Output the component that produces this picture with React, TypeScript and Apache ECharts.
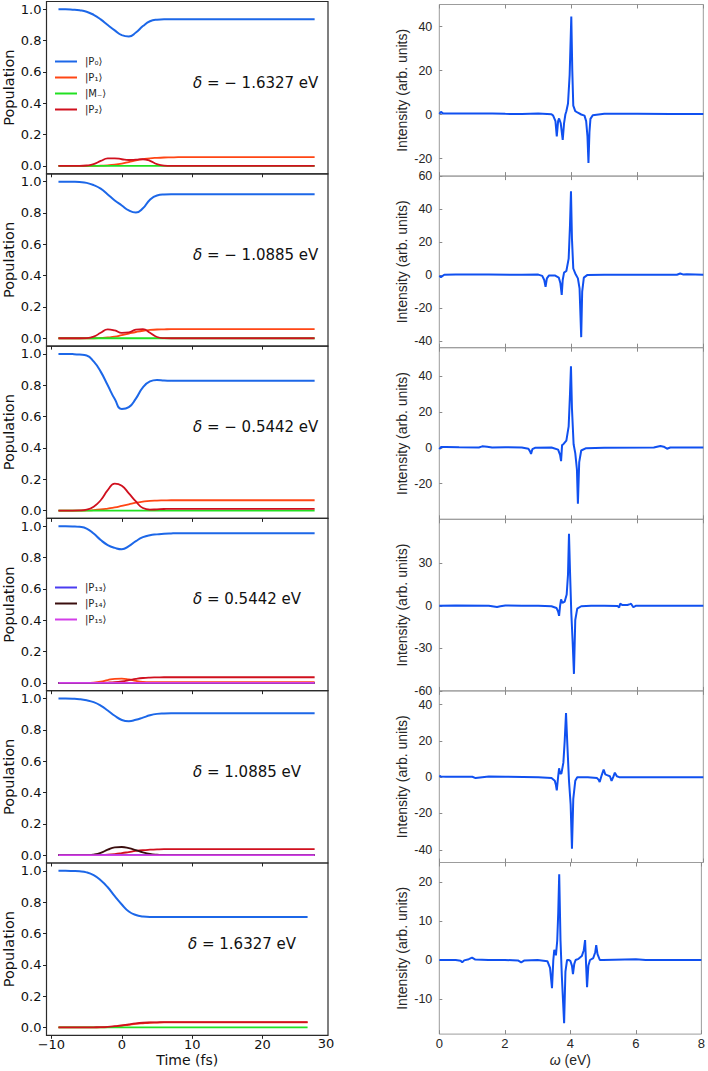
import React, { useEffect, useRef } from "react";
import * as echarts from "echarts";

// ---------- DATA ----------
const TIME = [-9, -8, -7, -6, -5, -4, -3, -2, -1, 0, 1, 2, 3, 4, 5, 6, 7, 8, 10, 13, 17, 22, 27.4];
const TIME_END = [27.4, 27.4, 27.4, 27.4, 27.4, 26.4];
const DELTAS = ["\u2212 1.6327", "\u2212 1.0885", "\u2212 0.5442", "0.5442", "1.0885", "1.6327"];
const ZERO = TIME.map(() => 0);

// panel 1  δ = −1.6327
const P0_1 = [1, 1, 0.998, 0.994, 0.985, 0.965, 0.936, 0.9, 0.866, 0.835, 0.826, 0.852, 0.893, 0.924, 0.934, 0.936, 0.936, 0.936, 0.936, 0.936, 0.936, 0.936, 0.936];
const P1_1 = [0, 0, 0, 0, 0, 0, 0.002, 0.004, 0.008, 0.015, 0.025, 0.035, 0.043, 0.049, 0.052, 0.054, 0.055, 0.056, 0.057, 0.057, 0.057, 0.057, 0.057];
const P2_1 = [0, 0, 0, 0, 0.003, 0.012, 0.032, 0.048, 0.049, 0.043, 0.038, 0.04, 0.043, 0.033, 0.012, 0.002, 0, 0, 0, 0, 0, 0, 0];
// panel 2  δ = −1.0885
const P0_2 = [1, 1, 0.999, 0.997, 0.992, 0.978, 0.955, 0.918, 0.88, 0.848, 0.816, 0.803, 0.83, 0.885, 0.912, 0.918, 0.919, 0.919, 0.919, 0.919, 0.919, 0.919, 0.919];
const P1_2 = [0, 0, 0, 0, 0, 0, 0.002, 0.005, 0.01, 0.02, 0.03, 0.04, 0.048, 0.053, 0.056, 0.057, 0.058, 0.058, 0.058, 0.058, 0.058, 0.058, 0.058];
const P2_2 = [0, 0, 0, 0, 0.001, 0.01, 0.035, 0.057, 0.05, 0.035, 0.037, 0.055, 0.058, 0.035, 0.008, 0.001, 0, 0, 0, 0, 0, 0, 0];
// panel 3  δ = −0.5442
const P0_3 = [1, 1, 0.999, 0.996, 0.99, 0.952, 0.887, 0.8, 0.712, 0.648, 0.66, 0.715, 0.787, 0.825, 0.834, 0.831, 0.829, 0.828, 0.828, 0.828, 0.828, 0.828, 0.828];
const P1_3 = [0, 0, 0, 0, 0.001, 0.003, 0.007, 0.013, 0.02, 0.03, 0.04, 0.05, 0.057, 0.062, 0.064, 0.065, 0.066, 0.066, 0.066, 0.066, 0.066, 0.066, 0.066];
const P2_3 = [0, 0, 0, 0.001, 0.006, 0.025, 0.066, 0.13, 0.172, 0.158, 0.11, 0.058, 0.016, 0.006, 0.008, 0.01, 0.011, 0.011, 0.011, 0.011, 0.011, 0.011, 0.011];
// panel 4  δ = 0.5442
const P0_4 = [1, 1, 0.999, 0.996, 0.985, 0.953, 0.912, 0.88, 0.862, 0.853, 0.873, 0.905, 0.93, 0.943, 0.948, 0.952, 0.954, 0.955, 0.955, 0.955, 0.955, 0.955, 0.955];
const P1_4 = [0, 0, 0, 0, 0, 0.002, 0.008, 0.018, 0.026, 0.027, 0.022, 0.013, 0.007, 0.005, 0.005, 0.005, 0.005, 0.005, 0.005, 0.005, 0.005, 0.005, 0.005];
const P2_4 = [0, 0, 0, 0, 0, 0, 0, 0.002, 0.005, 0.01, 0.017, 0.025, 0.031, 0.034, 0.035, 0.036, 0.036, 0.036, 0.036, 0.036, 0.036, 0.036, 0.036];
// panel 5  δ = 1.0885
const P0_5 = [1, 1, 0.999, 0.996, 0.989, 0.977, 0.955, 0.924, 0.89, 0.863, 0.855, 0.864, 0.878, 0.893, 0.902, 0.905, 0.906, 0.906, 0.906, 0.906, 0.906, 0.906, 0.906];
const P2_5 = [0, 0, 0, 0, 0, 0, 0.001, 0.003, 0.007, 0.013, 0.02, 0.027, 0.032, 0.035, 0.037, 0.038, 0.038, 0.038, 0.038, 0.038, 0.038, 0.038, 0.038];
const P14_5 = [0, 0, 0, 0, 0, 0.004, 0.015, 0.035, 0.05, 0.052, 0.045, 0.032, 0.018, 0.008, 0.003, 0.001, 0, 0, 0, 0, 0, 0, 0];
// panel 6  δ = 1.6327
const P0_6 = [1, 1, 0.999, 0.997, 0.99, 0.972, 0.94, 0.895, 0.838, 0.785, 0.74, 0.718, 0.709, 0.706, 0.706, 0.706, 0.706, 0.706, 0.706, 0.706, 0.706, 0.706, 0.706];
const P1_6 = [0, 0, 0, 0, 0, 0, 0.001, 0.003, 0.006, 0.011, 0.017, 0.023, 0.027, 0.03, 0.031, 0.032, 0.032, 0.032, 0.032, 0.032, 0.032, 0.032, 0.032];
const P2_6 = [0, 0, 0, 0, 0, 0.001, 0.002, 0.004, 0.008, 0.013, 0.02, 0.026, 0.03, 0.032, 0.033, 0.034, 0.034, 0.034, 0.034, 0.034, 0.034, 0.034, 0.034];

// spectra (ω in eV, intensity arb. units)
const E1 = [0, 0.05, 0.12, 0.3, 1.0, 1.6, 2.0, 2.5, 3.0, 3.4, 3.45, 3.52, 3.56, 3.6, 3.63, 3.68, 3.74, 3.78, 3.82, 3.85, 3.9, 3.95, 4.0, 4.03, 4.06, 4.12, 4.2, 4.3, 4.4, 4.45, 4.49, 4.52, 4.55, 4.58, 4.65, 5.0, 6.0, 7.0, 8.0];
const I1 = [0.3, 1.2, 0.4, 0.5, 0.4, 0.4, 0.3, 0.2, 0.4, 0.1, -0.5, -3, -10, -3, -1.8, -4, -11.5, -4, 0, 1.5, 5, 18, 44.5, 20, 4, 1.5, 0.8, 0, -0.5, -3, -10, -22, -8, -2, -0.3, 0.3, 0.3, 0.2, 0.2];
const E2 = [0, 0.05, 0.15, 0.5, 1.5, 2.5, 3.0, 3.12, 3.18, 3.22, 3.26, 3.32, 3.5, 3.62, 3.67, 3.71, 3.74, 3.78, 3.85, 3.92, 3.96, 3.99, 4.02, 4.06, 4.12, 4.2, 4.25, 4.3, 4.33, 4.38, 4.48, 5.0, 6.0, 7.2, 7.3, 7.4, 7.5, 8.0];
const I2 = [-0.5, -1.2, 0.2, 0.3, 0.4, 0.2, 0.3, -0.5, -3, -7.1, -2, -0.3, -0.2, -1.5, -5, -12, -3, 1.5, 2.5, 10, 30, 50.8, 22, 4, 1, -2, -8, -37.6, -10, -1.5, 0, 0.2, 0.2, 0.2, 1, 0.3, 0.5, 0.2];
const E3 = [0, 0.05, 0.2, 0.6, 1.2, 1.3, 1.45, 1.6, 2.0, 2.5, 2.7, 2.75, 2.78, 2.82, 2.9, 3.4, 3.6, 3.66, 3.69, 3.72, 3.76, 3.85, 3.92, 3.96, 3.99, 4.02, 4.07, 4.12, 4.17, 4.2, 4.24, 4.3, 4.45, 5.0, 6.5, 6.7, 6.8, 6.9, 7.0, 8.0];
const I3 = [-0.8, 0.4, 0.5, 0.3, 0.2, 0.8, 0.6, 0.2, 0.3, 0.2, -0.5, -2, -3.4, -0.8, 0, 0.2, -1, -4, -7.5, 1.5, 2, 4, 12, 30, 45.6, 22, 2, -3, -12, -31.3, -8, -1.5, -0.2, 0, 0.2, 1, 0.6, -0.5, 0.2, 0.2];
const E4 = [0, 0.5, 1.5, 1.75, 1.85, 2.0, 2.5, 3.0, 3.4, 3.55, 3.6, 3.63, 3.66, 3.69, 3.73, 3.8, 3.86, 3.9, 3.93, 3.96, 4.0, 4.04, 4.08, 4.12, 4.18, 4.3, 4.6, 5.0, 5.4, 5.45, 5.48, 5.55, 5.7, 5.78, 5.81, 5.88, 5.95, 6.5, 8.0];
const I4 = [0, 0.2, 0.1, -0.8, -0.3, 0.2, 0.1, 0, -0.3, -1.5, -4, -7.1, 0, 4.5, 2, 3, 8, 22, 50.8, 25, -5, -25, -48, -10, -2, -0.3, 0, 0, -0.2, -1.2, 1.5, 0.5, 0.6, 1.2, 1.5, -1, 0, 0, 0];
const E5 = [0, 0.05, 0.2, 1.0, 1.1, 1.5, 2.0, 3.0, 3.4, 3.5, 3.53, 3.56, 3.6, 3.63, 3.66, 3.7, 3.76, 3.8, 3.84, 3.88, 3.93, 3.98, 4.02, 4.06, 4.12, 4.18, 4.5, 4.78, 4.83, 4.86, 4.92, 4.98, 5.03, 5.1, 5.17, 5.22, 5.27, 5.32, 5.38, 5.45, 6.0, 8.0];
const I5 = [0.8, 0.3, 0.2, 0.2, -0.5, 0.3, 0.2, 0, -0.5, -2, -4, -7.3, 0, 4.9, 2, 2, 8, 20, 35.3, 18, -2, -15, -39.4, -12, -2, 0, 0, -0.5, -1.5, -2.7, 1, 4.2, 1.5, 1, 0.5, -2, 0, 2.5, 0.5, 0, 0, 0];
const E6 = [0, 0.5, 0.65, 0.7, 0.76, 0.9, 1.0, 1.1, 1.5, 2.0, 2.4, 2.5, 2.6, 3.0, 3.3, 3.38, 3.44, 3.48, 3.51, 3.56, 3.6, 3.63, 3.66, 3.7, 3.74, 3.78, 3.81, 3.85, 3.9, 3.95, 4.0, 4.05, 4.08, 4.12, 4.16, 4.25, 4.35, 4.41, 4.45, 4.48, 4.51, 4.55, 4.6, 4.7, 4.76, 4.79, 4.83, 4.9, 5.0, 6.0, 6.3, 8.0];
const I6 = [0, 0, -0.2, -0.6, -0.1, 0.2, 0.6, 0.1, 0, 0, -0.1, -0.6, -0.1, 0, -0.3, -2, -7.2, 0, 2.6, 1.2, 5, 12, 22, 5, -4, -11, -16.2, -3, 0, 0, -0.2, -1.5, -3.6, -1, 0, 0.3, 1, 2.5, 5.1, -1, -7, -1.5, 0, 0.5, 2, 3.8, 1.5, 0, 0, 0.2, 0, 0];

const SPEC_E = [E1, E2, E3, E4, E5, E6];
const SPEC_I = [I1, I2, I3, I4, I5, I6];
const SPEC_MIN = [-28, -44, -40, -60, -47, -19];
const SPEC_MAX = [50, 60, 56, 61, 47.5, 25];
const SPEC_TICKS = [
  [-20, 0, 20, 40],
  [-40, -20, 0, 20, 40, 60],
  [-20, 0, 20, 40],
  [-60, -30, 0, 30],
  [-40, -20, 0, 20, 40],
  [-10, 0, 10, 20],
];
const POP_TICKS = [0, 0.2, 0.4, 0.6, 0.8, 1.0];
const TIME_TICKS = [-10, 0, 10, 20];

const N = {
  P0: "|P\u2080\u27E9",
  P1: "|P\u2081\u27E9",
  M: "|M\u208B\u27E9",
  P2: "|P\u2082\u27E9",
  P13: "|P\u2081\u2083\u27E9",
  P14: "|P\u2081\u2084\u27E9",
  P15: "|P\u2081\u2085\u27E9",
};
const COLORS: Record<string, string> = {
  P0: "#1c67e8",
  P1: "#ff4614",
  M: "#22e022",
  P2: "#d0101e",
  P13: "#4b3cf0",
  P14: "#3a0e0e",
  P15: "#d23ee8",
};

// population series per panel [key, values]
const POPS: [string, number[]][][] = [
  [["P0", P0_1], ["P1", P1_1], ["M", ZERO], ["P2", P2_1]],
  [["P0", P0_2], ["P1", P1_2], ["M", ZERO], ["P2", P2_2]],
  [["P0", P0_3], ["P1", P1_3], ["M", ZERO], ["P2", P2_3]],
  [["P0", P0_4], ["P1", P1_4], ["M", ZERO], ["P2", P2_4], ["P13", ZERO], ["P14", ZERO], ["P15", ZERO]],
  [["P0", P0_5], ["P1", ZERO], ["M", ZERO], ["P2", P2_5], ["P13", ZERO], ["P14", P14_5], ["P15", ZERO]],
  [["P0", P0_6], ["P1", P1_6], ["M", ZERO], ["P2", P2_6]],
];

// ---------- LAYOUT ----------
const L_X = 46, L_W = 282, L_TOP = 1.5, L_H = 172.3;
const R_X = 439.3, R_W = 264, R_TOP = 4.5, R_H = 171.6;
const DJ = "DejaVu Sans";
const AR = "Liberation Sans";

function buildOption() {
  const grid: any[] = [];
  const xAxis: any[] = [];
  const yAxis: any[] = [];
  const series: any[] = [];
  const graphic: any[] = [];

  for (let i = 0; i < 6; i++) {
    grid.push({ left: L_X, top: L_TOP + i * L_H, width: L_W, height: L_H, show: true, borderColor: "#2b2b2b", borderWidth: 1.2, backgroundColor: "transparent" });
  }
  for (let i = 0; i < 6; i++) {
    grid.push({ left: R_X, top: R_TOP + i * R_H, width: R_W, height: R_H, show: true, borderColor: "#9c9c9c", borderWidth: 1, backgroundColor: "transparent" });
  }

  const fmtM = (v: number) => (v < 0 ? "\u2212" + Math.abs(v) : String(v));
  const noLine = { show: false, onZero: false };

  // left axes
  for (let i = 0; i < 6; i++) {
    const last = i === 5;
    xAxis.push({
      type: "value", gridIndex: i, position: "bottom", min: -10.7, max: 29.3,
      axisLine: noLine, splitLine: { show: false },
      axisTick: { show: true, inside: false, length: 3.5, customValues: TIME_TICKS, lineStyle: { color: "#222" } },
      axisLabel: { show: last, customValues: TIME_TICKS, formatter: fmtM, margin: 3, fontSize: 13, fontFamily: DJ, color: "#111" },
      name: last ? "Time (fs)" : "", nameLocation: "middle", nameGap: 18,
      nameTextStyle: { fontSize: 14, fontFamily: DJ, color: "#111" },
    });
    yAxis.push({
      type: "value", gridIndex: i, position: "left", min: -0.05, max: 1.05,
      axisLine: noLine, splitLine: { show: false },
      axisTick: { show: true, inside: false, length: 3.5, customValues: POP_TICKS, lineStyle: { color: "#222" } },
      axisLabel: { customValues: POP_TICKS, formatter: (v: number) => v.toFixed(1), margin: 5, fontSize: 13, fontFamily: DJ, color: "#111" },
      name: "Population", nameLocation: "middle", nameGap: 30.5,
      nameTextStyle: { fontSize: 14.5, fontFamily: DJ, color: "#111" },
    });
  }
  // right axes (bottom)
  for (let i = 0; i < 6; i++) {
    const last = i === 5;
    xAxis.push({
      type: "value", gridIndex: 6 + i, position: "bottom", min: 0, max: 8, interval: 2,
      axisLine: noLine, splitLine: { show: false },
      axisTick: { show: true, inside: true, length: 4, lineStyle: { color: "#8a8a8a" } },
      axisLabel: { show: last, margin: 3, fontSize: 13, fontFamily: AR, color: "#262626", showMinLabel: true, showMaxLabel: true },
      name: last ? "{w|\u03C9} (eV)" : "", nameLocation: "middle", nameGap: 19,
      nameTextStyle: { fontSize: 14, fontFamily: AR, color: "#262626", rich: { w: { fontStyle: "italic", fontSize: 14, fontFamily: AR, color: "#262626" } } },
    });
    yAxis.push({
      type: "value", gridIndex: 6 + i, position: "left", min: SPEC_MIN[i], max: SPEC_MAX[i],
      axisLine: noLine, splitLine: { show: false },
      axisTick: { show: true, inside: true, length: 3, customValues: SPEC_TICKS[i], lineStyle: { color: "#8a8a8a" } },
      axisLabel: { customValues: SPEC_TICKS[i], formatter: (v: number) => String(v), margin: 7, fontSize: 12.5, fontFamily: AR, color: "#262626" },
      name: "Intensity (arb. units)", nameLocation: "middle", nameGap: 30,
      nameTextStyle: { fontSize: 14, fontFamily: AR, color: "#262626" },
    });
  }
  // right axes (top ticks)
  for (let i = 0; i < 6; i++) {
    xAxis.push({
      type: "value", gridIndex: 6 + i, position: "top", min: 0, max: 8, interval: 2,
      axisLine: noLine, splitLine: { show: false },
      axisTick: { show: true, inside: true, length: 4, lineStyle: { color: "#8a8a8a" } },
      axisLabel: { show: false },
    });
  }

  // population series
  POPS.forEach((panel, i) => {
    panel.forEach(([key, vals]) => {
      series.push({
        type: "line", name: (N as any)[key], xAxisIndex: i, yAxisIndex: i,
        data: TIME.map((t, k) => [k === TIME.length - 1 ? TIME_END[i] : t, vals[k]]),
        symbol: "none", smooth: 0.5,
        lineStyle: { color: COLORS[key], width: key === "P0" ? 2 : 1.8 },
        itemStyle: { color: COLORS[key] },
      });
    });
  });
  // spectra
  for (let i = 0; i < 6; i++) {
    series.push({
      type: "line", name: "spec" + i, xAxisIndex: 6 + i, yAxisIndex: 6 + i,
      data: SPEC_E[i].map((e, k) => [e, SPEC_I[i][k]]),
      symbol: "none", lineStyle: { color: "#1050f0", width: 2 }, itemStyle: { color: "#1050f0" },
    });
  }

  // delta annotations
  for (let i = 0; i < 6; i++) {
    graphic.push({
      type: "text", x: i === 5 ? 188 : 193, y: L_TOP + i * L_H + 81,
      style: {
        text: "{d|\u03B4} = " + DELTAS[i] + " eV",
        font: "15px 'DejaVu Sans'", fill: "#111", verticalAlign: "middle", align: "left",
        rich: { d: { fontStyle: "italic", fontSize: 15, fontFamily: DJ, fill: "#111" } },
      },
    });
  }
  // last time tick label beyond the drawn axis range
  graphic.push({
    type: "text", x: 326, y: 1043.5,
    style: { text: "30", font: "13px 'DejaVu Sans'", fill: "#111", align: "center", verticalAlign: "middle" },
  });

  const legendCommon = {
    orient: "vertical", icon: "rect", itemWidth: 22, itemHeight: 2, itemGap: 6, padding: 0, selectedMode: false,
    textStyle: { fontSize: 10, lineHeight: 10, fontFamily: DJ, color: "#222", padding: [0, 0, 0, 3] },
  };
  const legend = [
    { ...legendCommon, left: 55, top: 56.5, data: [N.P0, N.P1, N.M, N.P2] },
    { ...legendCommon, left: 55, top: 582.5, data: [N.P13, N.P14, N.P15] },
  ];

  return { animation: false, backgroundColor: "#ffffff", grid, xAxis, yAxis, series, graphic, legend };
}

export default function App() {
  const ref = useRef<HTMLDivElement>(null);
  useEffect(() => {
    if (!ref.current) return;
    const chart = echarts.init(ref.current, undefined, { renderer: "svg" });
    chart.setOption(buildOption() as any);
    return () => chart.dispose();
  }, []);
  return <div ref={ref} style={{ position: "absolute", left: 0, top: 0, width: 708, height: 1071 }} />;
}
